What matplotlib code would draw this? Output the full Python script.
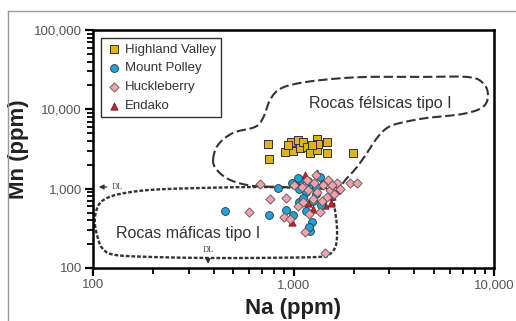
import matplotlib
matplotlib.use("Agg")
import matplotlib.pyplot as plt
import numpy as np
from matplotlib.lines import Line2D
from matplotlib.ticker import FixedLocator, FixedFormatter, LogLocator, NullFormatter

plt.rcParams['font.family'] = ['Liberation Sans', 'DejaVu Sans']

# data (Na ppm, Mn ppm)
hv_na = [750, 755, 908, 972, 997, 1057, 1076, 1114, 1163, 1208, 1305, 1305, 1325, 1465, 1465, 1985, 939, 1240]
hv_mn = [3630, 2370, 2930, 3920, 2985, 4110, 3260, 3880, 3390, 2790, 4240, 3080, 3660, 3850, 2790, 2790, 3560, 3600]

mp_na = [455, 757, 918, 990, 1151, 1233, 1209, 1069, 1371, 1076, 979, 840, 1233, 1355, 1150, 1060, 1300, 1250, 1180, 1300, 1120, 1200, 1052]
mp_mn = [528, 466, 538, 466, 528, 384, 293, 685, 622, 1290, 1170, 1010, 1115, 1390, 900, 1000, 850, 700, 1250, 1050, 770, 330, 1365]

hk_na = [681, 764, 602, 918, 898, 1140, 1355, 1435, 1915, 2066, 1644, 1520, 1465, 1270, 1310, 1170, 1480, 1100, 1180, 1400, 1550, 1250, 1050, 1380, 1600, 1120, 1000, 1300, 1700, 1200, 960]
hk_mn = [1146, 735, 513, 757, 443, 287, 513, 156, 1170, 1185, 1170, 962, 794, 1180, 900, 1300, 1300, 1060, 950, 1100, 1100, 750, 600, 700, 850, 680, 1100, 1500, 1000, 480, 420]

en_na = [1140, 1305, 1435, 1180, 979, 1530, 1644, 1050, 1380, 1250, 1560]
en_mn = [1490, 1565, 622, 655, 384, 655, 962, 1250, 1200, 560, 800]

# field outlines
fel_na = [397, 420, 499, 643, 705, 764, 857, 1078, 1574, 2326, 4130, 7330, 8810, 9330, 8810, 7000, 4630,
          3400, 2930, 2610, 2326, 2075, 1850, 1648, 1208, 887, 628, 482, 415]
fel_mn = [2300, 3556, 5040, 6000, 7790, 13140, 18100, 21500, 24200, 25600, 25600, 25600, 21500, 15200, 10720,
          8750, 7790, 6730, 5830, 4360, 2820, 1880, 1365, 1050, 1020, 1050, 1082, 1288, 1720]

maf_na = [1520, 1078, 681, 342, 192, 136, 115, 106, 102, 105, 112, 129, 192, 342, 681, 1356, 1520, 1629, 1648, 1610, 1574]
maf_mn = [964, 1020, 1050, 1020, 964, 857, 741, 605, 403, 253, 174, 146, 138, 134, 134, 138, 150, 195, 319, 539, 763]

yticks = [100, 1000, 10000, 100000]
ylabels = ['100', '1,000', '10,000', '100,000']
xticks = [100, 1000, 10000]
xlabels = ['100', '1,000', '10,000']


def smooth_closed(xs, ys, n=16):
    # catmull-rom through the outline points, in log space
    P = np.column_stack([np.log10(xs), np.log10(ys)])
    m = len(P)
    t = np.linspace(0, 1, n, endpoint=False)[:, None]
    out = []
    for i in range(m):
        p0, p1, p2, p3 = P[i - 1], P[i], P[(i + 1) % m], P[(i + 2) % m]
        out.append(0.5 * (2 * p1 + (-p0 + p2) * t + (2 * p0 - 5 * p1 + 4 * p2 - p3) * t ** 2
                          + (-p0 + 3 * p1 - 3 * p2 + p3) * t ** 3))
    out = np.vstack(out + [out[0][:1]])
    return 10 ** out[:, 0], 10 ** out[:, 1]


fig = plt.figure(figsize=(5.16, 3.21), dpi=100)
ax = fig.add_axes([93 / 516, 1 - 268 / 321, 401 / 516, 238 / 321])
ax.set_xscale('log')
ax.set_yscale('log')
ax.set_xlim(100, 10000)
ax.set_ylim(100, 100000)

fx, fy = smooth_closed(fel_na, fel_mn)
ax.plot(fx, fy, color='#333333', lw=1.5, dashes=(4.5, 1.8), zorder=2)
mx, my = smooth_closed(maf_na, maf_mn)
ax.plot(mx, my, color='#333333', lw=1.7, dashes=(1.6, 0.8), zorder=2)

h1 = ax.scatter(hv_na, hv_mn, marker='s', s=40, color='#E0B21E', edgecolor='#333333', lw=0.7, zorder=3)
h4 = ax.scatter(en_na, en_mn, marker='^', s=28, color='#C8202A', edgecolor='#552222', lw=0.5, zorder=3)
h2 = ax.scatter(mp_na, mp_mn, marker='o', s=32, color='#1EA3DC', edgecolor='#333333', lw=0.6, zorder=4)
h3 = ax.scatter(hk_na, hk_mn, marker='D', s=22, color='#F2A2AC', edgecolor='#555555', lw=0.6, zorder=5)

ax.text(2700, 12000, 'Rocas félsicas tipo I', fontsize=11.5, color='#333333', ha='center', va='center')
ax.text(298, 270, 'Rocas máficas tipo I', fontsize=11.5, color='#333333', ha='center', va='center')

# detection limit arrows
ax.annotate('', xy=(103.5, 1050), xytext=(121, 1050),
            arrowprops=dict(arrowstyle='-|>', color='#333333', lw=0.9, mutation_scale=7))
ax.text(124, 1050, 'DL', fontsize=6, family='Liberation Serif', color='#444444', va='center', ha='left')
ax.annotate('', xy=(375, 104), xytext=(375, 145),
            arrowprops=dict(arrowstyle='-|>', color='#333333', lw=0.9, mutation_scale=7))
ax.text(375, 168, 'DL', fontsize=6, family='Liberation Serif', color='#444444', va='center', ha='center')

ax.legend([h1, h2, h3, h4], ['Highland Valley', 'Mount Polley', 'Huckleberry', 'Endako'],
          loc='upper left', bbox_to_anchor=(0.02, 0.966), borderaxespad=0, fontsize=9.5,
          frameon=True, fancybox=False, edgecolor='#333333', framealpha=1,
          handletextpad=0.2, labelspacing=0.5, borderpad=0.4, handlelength=1.2,
          labelcolor='#333333').get_frame().set_linewidth(1.0)

ax.yaxis.set_major_locator(FixedLocator(yticks))
ax.yaxis.set_major_formatter(FixedFormatter(ylabels))
ax.xaxis.set_major_locator(FixedLocator(xticks))
ax.xaxis.set_major_formatter(FixedFormatter(xlabels))
ax.xaxis.set_minor_locator(LogLocator(base=10, subs=np.arange(2, 10)))
ax.yaxis.set_minor_locator(LogLocator(base=10, subs=np.arange(2, 10)))
ax.xaxis.set_minor_formatter(NullFormatter())
ax.yaxis.set_minor_formatter(NullFormatter())
ax.tick_params(which='major', length=6, width=1.6, labelsize=9.5, labelcolor='#555555', pad=2)
ax.tick_params(which='minor', length=4, width=1.3)
for s in ax.spines.values():
    s.set_linewidth(1.8)

ax.set_xlabel('Na (ppm)', fontsize=16, fontweight='bold', color='#222222')
ax.set_ylabel('Mn (ppm)', fontsize=16, fontweight='bold', color='#222222')
ax.xaxis.set_label_coords(0.5, -0.125)
ax.yaxis.set_label_coords(-0.16, 0.5)

# outer frame of the figure panel
fig.add_artist(Line2D([8 / 516, 1], [1 - 11 / 321] * 2, transform=fig.transFigure, color='#999999', lw=1))
fig.add_artist(Line2D([8 / 516] * 2, [0, 1 - 11 / 321], transform=fig.transFigure, color='#999999', lw=1))

fig.savefig('out.png', dpi=100)
